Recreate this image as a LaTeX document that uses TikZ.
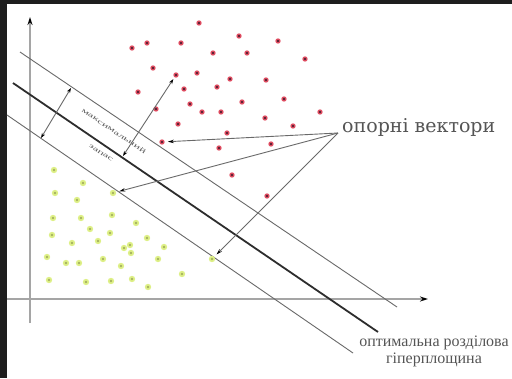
\documentclass[tikz,border=0pt]{standalone}
\usepackage{fontspec}
\setmainfont{Liberation Serif}
\newfontfamily\labfont{DejaVu Serif}
\usetikzlibrary{arrows.meta,calc}
\definecolor{frame}{RGB}{30,30,30}
\definecolor{axisgray}{RGB}{165,165,165}
\definecolor{linegray}{RGB}{105,105,105}
\definecolor{thickgray}{RGB}{45,45,45}
\definecolor{textgray}{RGB}{85,85,85}
\definecolor{redhalo}{RGB}{228,80,100}
\definecolor{redcore}{RGB}{85,30,50}
\definecolor{greenhalo}{RGB}{222,240,135}
\definecolor{greencore}{RGB}{165,178,95}
\tikzset{
  axisline/.style={draw=axisgray, line width=1.4pt, -{Stealth[length=8pt,width=5pt,color=black]}},
  marginline/.style={draw=linegray, line width=0.9pt},
  hyperline/.style={draw=thickgray, line width=1.8pt},
  dimarrow/.style={draw=linegray, line width=0.9pt, {Stealth[length=5pt,width=3.5pt,color=black]}-{Stealth[length=5pt,width=3.5pt,color=black]}},
  pointer/.style={draw=linegray, line width=0.9pt, -{Stealth[length=6pt,width=3.5pt,color=black]}, shorten >=3pt},
  reddot/.style={circle, inner sep=0pt, minimum size=5.4pt, fill=redhalo,
    path picture={\fill[redcore] (path picture bounding box.center) circle (1.3pt);}},
  greendot/.style={circle, inner sep=0pt, minimum size=6.4pt, fill=greenhalo,
    path picture={\fill[greencore] (path picture bounding box.center) circle (1.4pt);}},
  smalllabel/.style={text=textgray, inner sep=0pt, font=\fontsize{6.5}{6.5}\selectfont},
}
\begin{document}
\begin{tikzpicture}[x=1pt,y=-1pt]
\useasboundingbox (0,0) rectangle (512,378);
\fill[frame] (0,0) rectangle (512,378);
\fill[white] (7,4) rectangle (512,378);
% axes
\coordinate (yb) at (30,323);
\coordinate (yt) at (30,17);
\coordinate (xl) at (7,299);
\coordinate (xr) at (428,299);
\draw[axisline] (yb) -- (yt);
\draw[axisline] (xl) -- (xr);
% lines
\coordinate (u1) at (20,52);
\coordinate (u2) at (397,307);
\coordinate (m1) at (13,83);
\coordinate (m2) at (378,332);
\coordinate (l1) at (7,115);
\coordinate (l2) at (353,353);
\draw[marginline] (u1) -- (u2);
\draw[hyperline] (m1) -- (m2);
\draw[marginline] (l1) -- (l2);
% red dots
\foreach \x/\y [count=\i] in {132/48,147/43,181/43,199/23,239/36,278/41,213/53,247/53,305/59,153/68,
  197/73,230/79,266/80,138/92,184/89,217/87,190/104,242/102,284/99,156/109,202/112,221/112,320/112,
  178/124,265/118,293/126,227/133,219/148,271/144,232/175,267/196}
  \node[reddot] (r\i) at (\x,\y) {};
\node[reddot] (rtop) at (176,75) {};
\node[reddot] (svr) at (162,142) {};
% green dots
\foreach \x/\y [count=\i] in {54/170,83/183,55/193,77/200,53/218,81/218,112/215,90/229,136/223,52/235,
  110/233,72/243,98/241,147/238,124/248,130/245,131/253,164/247,47/257,66/263,79/263,103/259,121/266,
  158/259,49/280,86/282,111/281,132/279,182/274,148/287}
  \node[greendot] (g\i) at (\x,\y) {};
\node[greendot] (svg1) at (113,193) {};
\node[greendot] (svg2) at (212,259) {};
% margin arrows
\coordinate (da1) at (71,88);
\coordinate (da2) at (41,138);
\draw[dimarrow] (da2) -- (da1);
\coordinate (db2) at (123,156);
\draw[dimarrow, shorten <=2pt] (rtop) -- (db2);
% margin label
\node[smalllabel, rotate=-34] (maxl) at (114,131) {\scalebox{1.9}[1]{максимальний}};
\node[smalllabel, rotate=-34] (zap) at (101,153) {\scalebox{1.9}[1]{запас}};
% support vectors label
\node[anchor=west, inner sep=0pt, text=textgray, font=\labfont\fontsize{19}{19}\selectfont] (svl) at (342,127) {опорні вектори};
\coordinate (src) at (338,133);
\draw[pointer] (src) -- (svr);
\draw[pointer] (src) -- (svg1);
\draw[pointer] (src) -- (svg2);
% hyperplane label
\node[text=textgray, inner sep=0pt, align=center, font=\fontsize{16}{17}\selectfont] (hpl) at (434,351) {оптимальна розділова\\гіперплощина};
\end{tikzpicture}
\end{document}
